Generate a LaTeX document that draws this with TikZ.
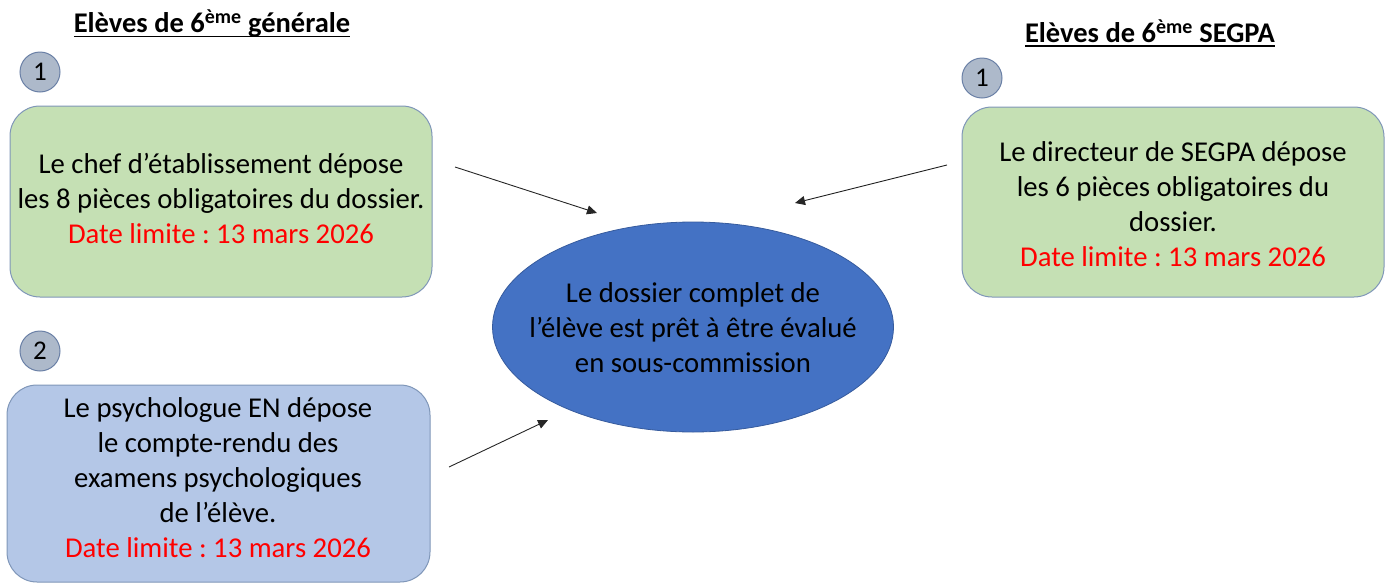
\documentclass[tikz,border=0pt]{standalone}
\usepackage{fontspec}
\setmainfont{Carlito}
\usetikzlibrary{shapes.geometric,arrows.meta}
\definecolor{greenfill}{HTML}{C5E0B4}
\definecolor{bluefill}{HTML}{B4C7E7}
\definecolor{boxborder}{HTML}{7F96B8}
\definecolor{circfill}{HTML}{ADB9CA}
\definecolor{circborder}{HTML}{6A80A6}
\definecolor{ellfill}{HTML}{4472C4}
\definecolor{datered}{HTML}{FF0000}
\tikzset{
  x=1pt,y=-1pt,
  box/.style={draw=boxborder,line width=1pt,rounded corners=30pt,inner sep=0pt},
  numcirc/.style={circle,draw=circborder,fill=circfill,line width=1pt,minimum size=40pt,inner sep=0pt,font=\fontsize{27}{30}\selectfont},
  boxtext/.style={align=center,font=\fontsize{28.7}{35}\selectfont},
  header/.style={font=\fontsize{28.5}{32}\selectfont\bfseries},
  conn/.style={-{Triangle[length=10pt,width=9pt]},line width=0.9pt,black!85},
}
\newcommand{\myul}[1]{\setbox0\hbox{#1}\rlap{\copy0}\rule[-4.5pt]{\wd0}{1.7pt}}
\begin{document}
\frenchspacing
\begin{tikzpicture}
\useasboundingbox (0,0) rectangle (1389,584);
% headers
\node[header] (h1) at (212,24) {\myul{Elèves de 6\textsuperscript{ème} générale}};
\node[header] (h2) at (1150,33) {\myul{Elèves de 6\textsuperscript{ème} SEGPA}};
% boxes
\draw[box,fill=greenfill] (10,106) rectangle (432,297);
\node[boxtext] (t1) at (221,198) {Le chef d’établissement dépose\\les 8 pièces obligatoires du dossier.\\\textcolor{datered}{Date limite : 13 mars 2026}};
\draw[box,fill=bluefill] (7,385) rectangle (430,582);
\node[boxtext] (t2) at (218,478) {Le psychologue EN dépose\\le compte-rendu des\\examens psychologiques\\de l’élève.\\\textcolor{datered}{Date limite : 13 mars 2026}};
\draw[box,fill=greenfill] (962,107) rectangle (1384,297);
\node[boxtext] (t3) at (1173,204) {Le directeur de SEGPA dépose\\les 6 pièces obligatoires du\\dossier.\\\textcolor{datered}{Date limite : 13 mars 2026}};
% circles
\node[numcirc] (c1) at (40,72) {1};
\node[numcirc] (c2) at (40,351) {2};
\node[numcirc] (c3) at (982,78) {1};
% ellipse
\node[ellipse,fill=ellfill,draw=ellfill!80!black,line width=0.8pt,minimum width=401pt,minimum height=210pt,inner sep=0pt] (e) at (693,327) {};
\node[boxtext] (et) at (693,328) {Le dossier complet de\\l’élève est prêt à être évalué\\en sous-commission};
% arrows
\coordinate (a1) at (455,167);
\coordinate (b1) at (597,213);
\coordinate (a2) at (947,165);
\coordinate (b2) at (795,203);
\coordinate (a3) at (449,467);
\coordinate (b3) at (548,420);
\draw[conn] (a1) -- (b1);
\draw[conn] (a2) -- (b2);
\draw[conn] (a3) -- (b3);
\end{tikzpicture}
\end{document}
